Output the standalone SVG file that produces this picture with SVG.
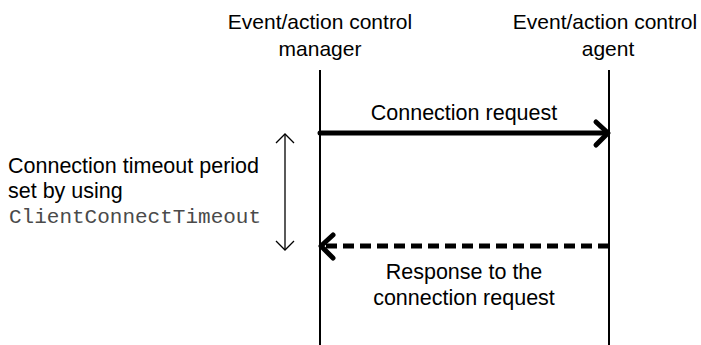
<svg xmlns="http://www.w3.org/2000/svg" width="701" height="345" viewBox="0 0 701 345">
<style>
.t{font-family:"Liberation Sans",Arial,sans-serif;font-size:21.5px;fill:#000}
.h{font-size:21px}
.c{text-anchor:middle}
.m{font-family:"Liberation Mono","Courier New",monospace;font-size:21px;fill:#4a4a4a}
.life{stroke:#000;stroke-width:2;fill:none}
.msg{stroke:#000;stroke-width:5;fill:none;stroke-linecap:round;stroke-linejoin:round}
.dash{stroke:#000;stroke-width:5;fill:none;stroke-dasharray:11,6}
.thin{stroke:#000;stroke-width:1.3;fill:none}
</style>
<rect width="701" height="345" fill="#fff"/>
<g id="manager">
<text class="t h c" x="320" y="29">Event/action control</text>
<text class="t h c" x="320" y="56">manager</text>
<line class="life" x1="320" y1="70" x2="320" y2="345"/>
</g>
<g id="agent">
<text class="t h c" x="605" y="29">Event/action control</text>
<text class="t h c" x="608" y="56">agent</text>
<line class="life" x1="609" y1="70" x2="609" y2="345"/>
</g>
<g id="timeout-label">
<text class="t" x="8" y="173">Connection timeout period</text>
<text class="t" x="8" y="198">set by using</text>
<text class="m" x="9" y="223">ClientConnectTimeout</text>
</g>
<g id="connectors">
<line class="msg" x1="320" y1="133" x2="607" y2="133"/>
<polyline class="msg" points="596,122 608,133 596,145"/>
<text class="t c" x="464" y="120">Connection request</text>
<line class="dash" x1="609" y1="246" x2="324" y2="246"/>
<polyline class="msg" points="333,235 321,246 333,258"/>
<text class="t c" x="464" y="279">Response to the</text>
<text class="t c" x="464" y="305">connection request</text>
<line class="thin" x1="285" y1="134" x2="285" y2="250"/>
<polyline class="thin" points="276,143 285,134 294,143"/>
<polyline class="thin" points="276,241 285,250 294,241"/>
</g>
</svg>
